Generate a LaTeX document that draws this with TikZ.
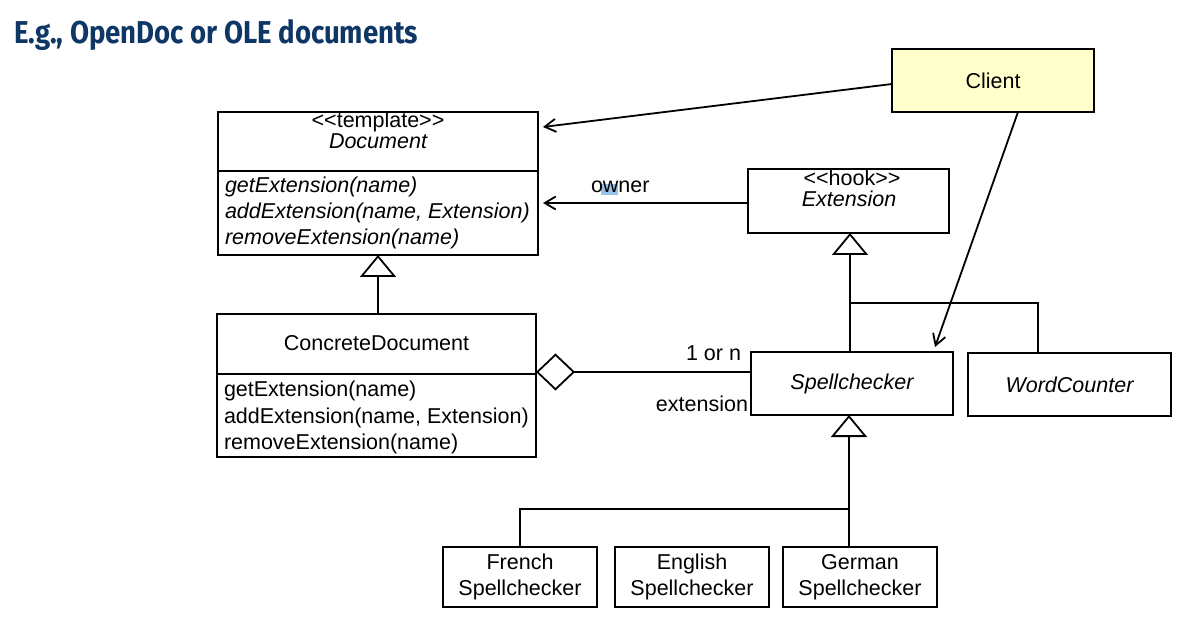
\documentclass[tikz,border=0pt]{standalone}
\usepackage{graphicx}
\usepackage{fontspec}
\setmainfont{Liberation Sans}
\newfontfamily\titlefont{Fira Sans}
\usetikzlibrary{arrows.meta,calc}
\definecolor{titleblue}{RGB}{14,55,101}
\definecolor{clientyellow}{RGB}{255,255,204}
\definecolor{selblue}{RGB}{155,194,230}
\newcommand\dfont{\fontsize{21.5}{26}\selectfont}
\begin{document}
\begin{tikzpicture}[x=1pt,y=-1pt,
  box/.style={draw, line width=1.8pt, inner sep=0pt, outer sep=0pt, anchor=north west, font=\dfont, align=center},
  lbl/.style={inner sep=0pt, outer sep=0pt, font=\dfont},
  conn/.style={line width=1.8pt},
  arr/.style={conn, -{Straight Barb[length=11pt,width=13pt]}},
  gen/.style={conn, -{Triangle[open,length=22pt,width=36pt]}},
  agg/.style={conn, {Diamond[open,length=39pt,width=37pt]}-}
]
\useasboundingbox (0,0) rectangle (1186,617);

% title
\node[anchor=base west, inner sep=0pt, text=titleblue] (title) at (14,43.3)
  {\resizebox{404pt}{24pt}{\titlefont\bfseries E.g., OpenDoc or OLE documents}};

% Client
\node[box, fill=clientyellow, minimum width=202pt, minimum height=63pt] (client) at (892,49) {Client};

% Document
\node[box, minimum width=320pt, minimum height=59pt] (dochead) at (218,112) {};
\node[box, minimum width=320pt, minimum height=84pt] (docmeth) at (218,171) {};
\node[lbl, anchor=base, text depth=0pt] (doctpl) at (378,127.5) {<{}<template>{}>};
\node[lbl, anchor=base, text height=13pt] (docname) at (378,148.5) {\itshape Document};
\node[lbl, anchor=base west] (dm1) at (225,193) {\itshape getExtension(name)};
\node[lbl, anchor=base west] (dm2) at (225,219) {\itshape addExtension(name, Extension)};
\node[lbl, anchor=base west] (dm3) at (225,245) {\itshape removeExtension(name)};

% ConcreteDocument
\node[box, minimum width=319pt, minimum height=60pt] (conchead) at (217,314) {};
\node[box, minimum width=319pt, minimum height=83pt] (concmeth) at (217,374) {};
\node[lbl, anchor=base] (concname) at (376.5,351) {ConcreteDocument};
\node[lbl, anchor=base west] (cm1) at (224,397) {getExtension(name)};
\node[lbl, anchor=base west] (cm2) at (224,423) {addExtension(name, Extension)};
\node[lbl, anchor=base west] (cm3) at (224,449) {removeExtension(name)};

% Extension
\node[box, minimum width=201pt, minimum height=64pt] (ext) at (748,169) {};
\node[lbl, anchor=base, text depth=0pt] (exthook) at (852,186) {<{}<hook>{}>};
\node[lbl, anchor=base, text height=13pt] (extname) at (849,207) {\itshape Extension};

% Spellchecker, WordCounter
\node[box, minimum width=202pt, minimum height=63pt] (spell) at (751,352) {\itshape Spellchecker};
\node[box, minimum width=203pt, minimum height=63pt] (word) at (968,353) {\itshape WordCounter};

% concrete spellcheckers
\node[box, minimum width=154pt, minimum height=60pt] (french) at (443,547) {French\\Spellchecker};
\node[box, minimum width=154pt, minimum height=60pt] (english) at (615,547) {English\\Spellchecker};
\node[box, minimum width=154pt, minimum height=60pt] (german) at (783,547) {German\\Spellchecker};

% junction coordinates
\coordinate (upj) at (850,303);
\coordinate (lowj) at (849,509);

% Client associations
\draw[arr] ($(client.west)+(0,3.5)$) -- ($(dochead.east)+(5,-14.5)$);
\draw[arr] ($(client.south)+(25,0)$) -- ($(spell.north)+(83,-5)$);

% owner association
\fill[selblue] (601,184) rectangle (618,195);
\node[lbl, anchor=base west] (owner) at (591,193) {owner};
\draw[arr] ($(ext.west)+(0,2)$) -- ($(docmeth.east)+(5,-10)$);

% generalisations
\draw[gen] (conchead.north -| 378,0) -- (docmeth.south -| 378,0);
\draw[gen] (spell.north -| upj) -- (ext.south -| upj);
\draw[conn] (upj) -| ($(word.north)+(-31.5,0)$);
\draw[gen] (german.north -| lowj) -- (spell.south -| lowj);
\draw[conn] (french.north) |- (lowj);
\draw[conn] ($(english.north)+(-4,0)$) -- ($(english.north)+(-4,0)$ |- lowj);

% aggregation
\draw[agg] ($(conchead.south east)+(0,-2)$) -- ($(spell.west)+(0,-11.5)$);
\node[lbl, anchor=base east] (mult) at (741,361) {1 or n};
\node[lbl, anchor=base east] (role) at (748,411) {extension};
\end{tikzpicture}
\end{document}
